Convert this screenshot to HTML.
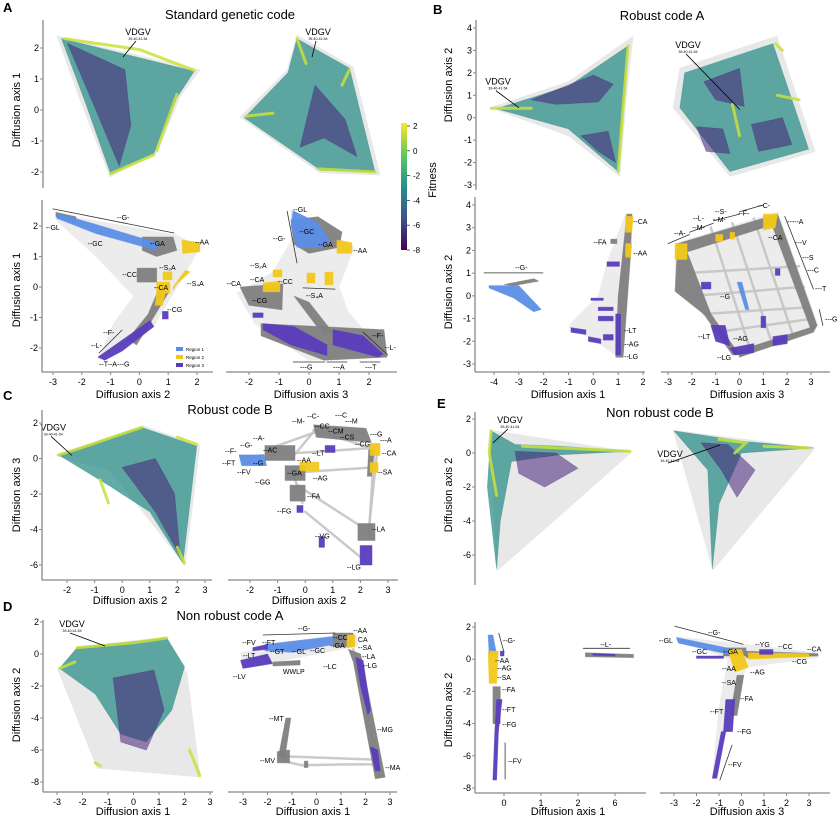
<!DOCTYPE html>
<html><head><meta charset="utf-8">
<style>
html,body{margin:0;padding:0;background:#fff;}
svg{display:block;font-family:"Liberation Sans","DejaVu Sans",sans-serif;}
</style></head>
<body>
<svg id="fig" width="840" height="818" viewBox="0 0 840 818" xmlns="http://www.w3.org/2000/svg">
<defs>
<linearGradient id="viridis" x1="0" y1="0" x2="0" y2="1">
<stop offset="0" stop-color="#fde725"/><stop offset="0.25" stop-color="#5ec962"/><stop offset="0.5" stop-color="#21918c"/><stop offset="0.75" stop-color="#3b528b"/><stop offset="1" stop-color="#440154"/>
</linearGradient>
</defs>
<g id="static">
<text x="3" y="12" font-size="13" font-weight="bold">A</text>
<text x="433" y="14" font-size="13" font-weight="bold">B</text>
<text x="3" y="400" font-size="13" font-weight="bold">C</text>
<text x="3" y="611" font-size="13" font-weight="bold">D</text>
<text x="437" y="408" font-size="13" font-weight="bold">E</text>
<text x="230" y="19" font-size="13" text-anchor="middle">Standard genetic code</text>
<text x="662" y="20" font-size="13" text-anchor="middle">Robust code A</text>
<text x="230" y="414" font-size="13" text-anchor="middle">Robust code B</text>
<text x="230" y="620" font-size="13" text-anchor="middle">Non robust code A</text>
<text x="660" y="417" font-size="13" text-anchor="middle">Non robust code B</text>
<rect x="401" y="123" width="6" height="127" fill="url(#viridis)"/>
<text x="436" y="180" font-size="11" text-anchor="middle" transform="rotate(-90 436 180)">Fitness</text>
</g>
</svg>
<script>
// ---------- colorbar ticks ----------
const cbTicks = [2, 0, -2, -4, -6, -8];
// ---------- tick arrays ----------
const A_x2Ticks = [-3,-2,-1,0,1,2];
const A_x3Ticks = [-2,-1,0,1,2];
const A_yTicks = [2,1,0,-1,-2];
const B_x1Ticks = [-4,-3,-2,-1,0,1,2];
const B_x3Ticks = [-3,-2,-1,0,1,2,3];
const B_yTopTicks = [4,3,2,1,0,-1,-2,-3];
const B_yBotTicks = [4,3,2,1,0,-1,-2,-3];
const C_xTicks = [-2,-1,0,1,2,3];
const C_yTicks = [2,0,-2,-4,-6];
const D_xTicks = [-3,-2,-1,0,1,2,3];
const D_yTicks = [2,0,-2,-4,-6,-8];
const E_x1Ticks = [0,1,2,3];
const E_x1TickLabels = ["0","1","2","6"];
const E_x3Ticks = [-3,-2,-1,0,1,2,3];
const E_yTopTicks = [2,0,-2,-4,-6];
const E_yBotTicks = [2,0,-2,-4,-6,-8];

// ---------- A top (fitness) ----------
const A1_hull = [[-2.86,2.39],[2.1,1.29],[1.41,0.42],[0.61,-1.39],[-1.02,-2.16],[-2.06,0.32]];
const A1_body = [[-2.7,2.3],[1.9,1.25],[1.3,0.4],[0.5,-1.4],[-1.0,-2.05],[-1.9,0.3]];
const A1_purple = [[[-2.5,2.15],[-0.5,1.3],[-0.3,-0.5],[-0.7,-1.8],[-1.6,0.2]]];
const A1_yellow = [[[-2.6,2.3],[0,1.95],[1.9,1.28]],[[-1.0,-2.05],[0.5,-1.45]],[[1.3,0.5],[0.6,-1.3]]];
const A2_hull = [[-0.4,2.42],[1.47,1.39],[2.37,-2.1],[0.37,-2.03],[-2.3,-0.23],[-0.73,1.29]];
const A2_body = [[-0.4,2.3],[1.35,1.35],[2.2,-2.0],[0.4,-1.95],[-2.15,-0.25],[-0.7,1.2]];
const A2_purple = [[[0.2,0.8],[1.2,-0.3],[1.6,-1.5],[0.5,-0.9],[-0.3,-1.2],[0.0,0.0]]];
const A2_yellow = [[[-0.4,2.3],[-0.1,1.5]],[[0.3,-1.9],[2.2,-2.0]],[[-2.1,-0.2],[-1.2,-0.1]],[[1.35,1.3],[1.1,0.8]]];

// ---------- A bottom (regions) ----------
const A3_net = [[-2.9,2.4],[1.3,1.7],[2.1,1.3],[1.5,0.3],[0.8,-0.8],[0.5,-1.3],[-1.4,-2.35],[-0.9,-1.2],[-0.2,-0.3],[-1.5,1.0],[-2.9,2.2]];
const A3_gray = [[[0.1,1.64],[1.17,1.64],[1.3,1.2],[0.6,1.0],[0.1,1.2]],[[-0.08,0.62],[0.6,0.62],[0.6,0.16],[-0.08,0.16]],[[0.7,0.0],[1.0,-0.2],[0.3,-1.3],[-0.1,-1.9],[-0.4,-1.7],[0.3,-0.9]],[[-2.9,2.45],[-2.2,2.3],[-2.2,2.1],[-2.9,2.3]]];
const A3_blue = [[[-2.86,2.42],[-1.5,2.05],[0.6,1.45],[0.6,1.2],[-1.5,1.75],[-2.86,2.25]]];
const A3_yellow = [[[1.48,1.54],[2.1,1.45],[2.1,1.15],[1.5,1.1]],[[0.6,0.16],[1.06,0.16],[1.06,-0.2],[0.6,-0.2]],[[0.82,0.5],[1.13,0.5],[1.13,0.23],[0.82,0.23]],[[1.17,-0.1],[1.3,0.1],[1.76,0.5],[1.6,0.55],[1.17,0.0]],[[0.6,-0.2],[0.9,-0.2],[0.8,-0.6],[0.55,-0.6]]];
const A3_purple = [[[-1.44,-2.3],[0.37,-1.1],[0.5,-1.3],[-0.6,-2.1],[-1.2,-2.4]],[[0.8,-0.8],[1.0,-0.8],[1.0,-1.05],[0.8,-1.05]]];
const A3_brackets = [[[-3.0,2.56],[1.2,1.77]],[[-1.4,-2.16],[-0.6,-1.41]]];
const A3_labels = [["--GL",-3.25,1.97],["--G-",-0.78,2.3],["--GC",-1.8,1.44],["--GA",0.37,1.44],["--AA",1.93,1.5],["--S₂A",0.68,0.66],["--CC",-0.6,0.43],["--S₄A",1.65,0.13],["--CA",0.5,0.0],["--CG",0.96,-0.72],["--F-",-1.26,-1.48],["--L-",-1.68,-1.9],["--T--A---G",-1.4,-2.5]];
const A4_net = [[-0.6,2.55],[1.5,1.3],[1.0,0.0],[1.3,-0.8],[2.6,-2.3],[0.0,-2.4],[-1.8,-1.2],[-2.4,-0.2],[-1.2,0.5],[-0.6,1.5]];
const A4_gray = [[[-0.6,2.2],[0.3,2.3],[1.1,1.8],[1.0,1.3],[0.0,1.1],[-0.5,1.4]],[[-2.3,0.0],[-0.87,0.1],[-0.9,-0.75],[-2.0,-0.6]],[[-1.6,-1.2],[2.5,-1.4],[2.6,-2.3],[0.5,-2.4],[-1.6,-1.6]],[[-0.5,-0.3],[0.0,-0.5],[0.8,-1.5],[0.5,-1.6]]];
const A4_blue = [[[-0.53,2.5],[0.3,2.1],[0.7,1.5],[0.4,1.3],[-0.4,1.3],[-0.6,2.0]]];
const A4_yellow = [[[0.93,1.54],[1.43,1.45],[1.43,1.1],[0.93,1.1]],[[-0.07,0.46],[0.2,0.46],[0.2,0.13],[-0.07,0.13]],[[0.53,0.49],[0.8,0.49],[0.8,0.07],[0.53,0.07]],[[-1.53,0.13],[-0.97,0.2],[-0.97,-0.16],[-1.53,-0.16]],[[-1.2,0.56],[-0.9,0.56],[-0.9,0.33],[-1.2,0.33]]];
const A4_purple = [[[-1.53,-1.2],[-0.5,-1.3],[0.6,-1.9],[0.6,-2.25],[-0.6,-1.9],[-1.53,-1.4]],[[0.8,-1.4],[1.8,-1.6],[2.47,-2.2],[2.3,-2.3],[0.8,-1.9]],[[-1.87,-0.85],[-1.53,-0.85],[-1.53,-1.0],[-1.87,-1.0]]];
const A4_brackets = [[[-0.73,2.49],[-0.4,0.79]],[[-0.2,-0.03],[0.87,-0.07]],[[1.8,-1.48],[2.63,-2.23]],[[-0.53,-2.46],[0.53,-2.46]],[[0.6,-2.46],[1.27,-2.46]],[[1.7,-2.46],[2.37,-2.46]]];
const A4_labels = [["--GL",-0.53,2.56],["--G-",-1.2,1.6],["--GC",-0.33,1.84],["--GA",0.3,1.41],["--AA",1.47,1.21],["--S₂A",-1.97,0.72],["--CA",-2.75,0.13],["--CA",-1.97,0.26],["--CC",-1.03,0.2],["--S₄A",-0.1,-0.26],["--CG",-1.9,-0.43],["--F-",2.1,-1.57],["--L-",2.53,-1.97],["---G",-0.3,-2.6],["---A",0.8,-2.6],["---T",1.87,-2.6]];

// ---------- B ----------
const B1_hull = [[-4.16,0.44],[-1,1.6],[1.6,3.64],[1.3,0.5],[1.07,-2.62],[-1,-0.8]];
const B1_body = [[-3.9,0.4],[-1,1.4],[1.4,3.2],[1.2,0.5],[1.0,-2.4],[-1,-0.5]];
const B1_purple = [[[-2.5,0.8],[0,1.9],[0.8,1.5],[0.2,0.7],[-1.5,0.6]],[[-0.5,-0.8],[0.6,-0.6],[0.9,-2.0],[0.2,-1.5]]];
const B1_yellow = [[[1.4,3.2],[1.2,0.5],[1.0,-2.4]],[[-4.1,0.42],[-2.5,0.42]]];
const B2_hull = [[-2.79,0.44],[-2.5,2.22],[1.57,3.64],[3.17,-1.51],[-0.4,-2.62]];
const B2_body = [[-2.5,0.44],[-2.3,2.0],[1.4,3.3],[2.9,-1.4],[-0.4,-2.4]];
const B2_purple = [[[-1.5,1.6],[0,2.2],[0.2,0.5],[-1,0.8]],[[0.5,-0.3],[1.8,0],[2.2,-1.2],[0.8,-1.5]],[[-1.8,-0.4],[-0.7,-0.5],[-0.4,-1.6],[-1.4,-1.5]]];
const B2_yellow = [[[-0.3,0.6],[0.0,-0.8]],[[1.5,3.3],[1.8,3.0]],[[1.6,1.0],[2.5,0.8]]];
const B3_net = [[-1,-1.4],[0,-1.9],[1.0,-2.7],[1.2,-2.7],[1.6,3.6],[1.3,3.6],[0.6,1.6],[0.2,0],[-0.9,-1.2]];
const B3_gray = [[[1.35,3.6],[1.55,3.6],[1.5,1.8],[1.2,-2.7],[0.9,-2.7],[1.0,0]],[[-3.6,0.5],[-2.4,0.75],[-2.2,0.65],[-3.2,0.45]],[[0.7,2.5],[0.95,2.5],[0.95,2.3],[0.7,2.3]]];
const B3_blue = [[[-4.2,0.45],[-3,0.45],[-2.1,-0.6],[-2.4,-0.7],[-3.2,-0.1],[-4.2,0.35]]];
const B3_yellow = [[[1.3,3.5],[1.6,3.5],[1.55,2.8],[1.3,2.8]],[[1.3,2.3],[1.55,2.3],[1.5,1.7],[1.3,1.7]]];
const B3_purple = [[[0.55,1.5],[1.05,1.5],[1.05,1.3],[0.55,1.3]],[[-0.1,-0.1],[0.4,-0.1],[0.4,-0.2],[-0.1,-0.2]],[[0.2,-0.5],[0.8,-0.5],[0.8,-0.65],[0.2,-0.65]],[[0.2,-0.9],[0.8,-0.9],[0.8,-1.1],[0.2,-1.1]],[[-0.9,-1.4],[-0.3,-1.5],[-0.3,-1.7],[-0.9,-1.6]],[[-0.2,-1.8],[0.3,-1.9],[0.3,-2.1],[-0.2,-2.0]],[[0.4,-1.7],[0.8,-1.7],[0.8,-1.95],[0.4,-1.95]],[[0.9,-0.8],[1.1,-0.8],[1.1,-2.6],[0.9,-2.6]]];
const B3_brackets = [[[-4.4,1.01],[-2.03,1.01]]];
const B3_labels = [["--G-",-3.15,1.28],["--CA",1.6,3.3],["--FA",0.0,2.4],["--AA",1.6,1.9],["--LT",1.24,-1.5],["--AG",1.24,-2.1],["--LG",1.24,-2.64]];
const B4_net = [[-2.7,2.3],[1.6,3.7],[3.3,-1.3],[0.0,-2.7],[-1.5,-0.8],[-2.7,0.2]];
const B4_gray = [[[-2.6,2.3],[1.6,3.6],[1.6,3.2],[-2.6,1.8]],[[1.6,3.6],[3.25,-1.3],[3.0,-1.5],[1.3,3.3]],[[0.0,-2.4],[3.25,-1.3],[3.1,-1.6],[0.0,-2.7]],[[-2.6,2.2],[-2.3,2.2],[-1.2,-0.8],[0.0,-2.6],[-0.3,-2.6],[-1.5,-0.8],[-2.7,0.2]]];
const B4_grid = [[[-2.3,1.0],[2.5,1.3]],[[-1.9,0.0],[2.7,0.4]],[[-1.5,-0.8],[2.9,-0.5]],[[-1.0,-1.6],[3.1,-1.0]],[[-1.2,3.0],[0.4,-2.2]],[[-0.3,3.2],[1.3,-1.9]],[[0.6,3.4],[2.2,-1.6]]];
const B4_blue = [[[-0.1,0.6],[0.1,0.6],[0.4,-0.6],[0.25,-0.6]]];
const B4_yellow = [[[1.0,3.6],[1.6,3.6],[1.5,3.0],[1.0,2.9]],[[-2.7,2.3],[-2.2,2.3],[-2.2,1.6],[-2.7,1.6]],[[-1.0,2.7],[-0.7,2.7],[-0.7,2.4],[-1.0,2.4]],[[-0.4,2.8],[-0.2,2.8],[-0.2,2.5],[-0.4,2.5]]];
const B4_purple = [[[-1.2,-1.3],[-0.6,-1.3],[-0.4,-2.2],[-1.0,-2.0]],[[-0.4,-2.3],[0.6,-2.1],[0.6,-2.5],[-0.2,-2.6]],[[1.4,-1.8],[2.0,-1.7],[2.0,-2.1],[1.4,-2.2]],[[-1.6,0.6],[-1.2,0.6],[-1.2,0.3],[-1.6,0.3]],[[0.9,-0.9],[1.1,-0.9],[1.1,-1.4],[0.9,-1.4]],[[1.5,1.2],[1.7,1.2],[1.7,0.9],[1.5,0.9]]];
const B4_brackets = [[[-3.0,2.3],[-2.1,2.7]],[[-2.1,2.8],[-1.1,3.2]],[[-1.1,3.3],[0.0,3.6]],[[0.0,3.7],[1.0,4.0]],[[1.9,3.5],[3.1,0.3]],[[3.35,-0.6],[3.5,-1.3]]];
const B4_labels = [["--A-",-2.75,2.78],["--L-",-1.95,3.44],["--M-",-1.99,3.04],["--S-",-1.03,3.74],["--M-",-1.11,3.39],["--F-",-0.06,3.66],["--C-",0.78,4.0],["--CA",1.2,2.6],["-----A",2.0,3.3],["---V",2.33,2.38],["---S",2.62,1.72],["---C",2.83,1.15],["---T",3.17,0.35],["---G",3.59,-1.0],["--G",-0.82,0.0],["--LT",-1.74,-1.76],["--AG",-0.27,-1.85],["--LG",-0.94,-2.69]];

// ---------- C ----------
const C1_hull = [[-2.43,0.17],[0.75,1.86],[2.82,0.73],[2.28,-6.03],[-0.44,-0.68]];
const C1_body = [[-2.3,0.2],[0.7,1.75],[2.7,0.7],[2.2,-5.9],[1.0,-3],[-0.5,-1.5]];
const C1_purple = [[[0,-0.5],[1.2,0],[1.9,-2],[2.1,-5.5],[1.2,-3]]];
const C1_yellow = [[[-2.3,0.2],[-1.5,0.6],[0.7,1.75]],[[2.0,1.2],[2.7,0.8]],[[2.0,-5.0],[2.25,-5.9]],[[-0.8,-1.2],[-0.5,-2.5]]];
const C2_net = [[[-2.3,0.1],[2.5,0.6]],[[-0.5,0.0],[0.3,1.5]],[[2.5,0.5],[2.3,-4.5]],[[-0.3,-1.5],[2.2,-4.0]],[[0.0,-3.0],[2.2,-5.8]],[[2.6,0.3],[2.3,-4.0]],[[0.3,1.6],[2.4,0.6]],[[-1.4,0.5],[0.4,1.5]],[[-0.5,-0.8],[2.5,-0.5]],[[-0.4,-1.0],[-0.1,-2.5]]];
const C2_gray = [[[-1.46,0.73],[-0.37,0.73],[-0.37,-0.11],[-1.46,-0.11]],[[0.3,1.9],[2.2,1.7],[2.4,0.9],[0.4,1.2]],[[-0.73,-0.4],[0.0,-0.4],[0.0,-1.24],[-0.73,-1.24]],[[-0.55,-1.5],[0.0,-1.5],[0.0,-2.4],[-0.55,-2.4]],[[1.91,-3.66],[2.53,-3.66],[2.53,-4.62],[1.91,-4.62]],[[2.3,0.5],[2.5,0.5],[2.4,-1.0],[2.25,-1.0]]];
const C2_blue = [[[-2.4,0.2],[-1.5,0.2],[-1.4,-0.4],[-2.3,-0.4]]];
const C2_yellow = [[[-0.2,-0.2],[0.5,-0.2],[0.5,-0.7],[-0.2,-0.7]],[[2.35,0.85],[2.71,0.85],[2.71,0.17],[2.35,0.17]],[[2.35,-0.23],[2.64,-0.23],[2.64,-0.79],[2.35,-0.79]]];
const C2_purple = [[[0.72,0.73],[1.08,0.73],[1.08,0.34],[0.72,0.34]],[[-0.3,-2.65],[-0.08,-2.65],[-0.08,-3.04],[-0.3,-3.04]],[[0.5,-4.4],[0.7,-4.4],[0.7,-5.0],[0.5,-5.0]],[[1.99,-4.9],[2.42,-4.9],[2.42,-6.0],[1.99,-6.0]]];
const C2_labels = [["--M-",-0.48,2.14],["--C-",0.07,2.42],["---C",1.08,2.48],["---M",1.44,2.14],["--CC",0.35,1.86],["--CM",0.83,1.58],["--CS",1.26,1.24],["--CG",1.8,0.85],["---G",2.35,1.41],["---A",2.71,1.07],["--CA",2.78,0.34],["--SA",2.64,-0.73],["--A-",-1.89,1.18],["--G-",-2.36,0.79],["--F-",-2.9,0.45],["--FT",-3.01,-0.23],["--FV",-2.47,-0.73],["--GG",-1.82,-1.3],["--G",-1.89,-0.23],["--AC",-1.53,0.51],["--LT",0.25,0.34],["--AA",-0.3,-0.06],["--GA",-0.66,-0.79],["--AG",0.28,-1.07],["--FA",0.07,-2.08],["--FG",-1.02,-2.93],["--VG",0.35,-4.34],["--LA",2.42,-3.94],["--LG",1.51,-6.08]];

// ---------- D ----------
const D1_hull = [[-2.96,-1.0],[-2.22,0.44],[1.31,1.06],[2.1,-1.2],[2.61,-7.69],[-1.43,-7.13]];
const D1_body = [[-2.9,-0.9],[-2.2,0.4],[1.3,1.0],[2.0,-0.8],[1.5,-3.5],[0.5,-5.5],[-0.5,-5],[-1.5,-2.5]];
const D1_purple = [[[-0.8,-1.5],[0.8,-1.0],[1.2,-3.5],[0.5,-6.0],[-0.5,-5.5]]];
const D1_yellow = [[[-2.2,0.4],[0,0.7],[1.3,1.0]],[[-2.9,-0.9],[-2.3,-0.5]],[[2.2,-6],[2.6,-7.6]],[[-1.5,-6.8],[-1.3,-7.0]]];
const D2_net = [[-3.1,0.1],[1.6,1.3],[1.7,0.5],[-3.0,-0.9]];
const D2_lines = [[[-1.35,-6.7],[-0.6,-6.95],[1.2,-6.9],[2.4,-6.9]],[[-1.3,-6.4],[2.4,-6.6]],[[1.5,0.3],[2.6,-7.6]]];
const D2_gray = [[[-1.78,-0.5],[-0.67,-0.4],[-0.67,-0.69],[-1.78,-0.75]],[[0.67,1.31],[1.49,1.31],[1.49,0.44],[0.67,0.44]],[[1.3,0.3],[1.8,0.0],[2.8,-7.7],[2.4,-7.8],[1.5,-0.5]],[[-1.25,-4.0],[-1.05,-4.0],[-1.3,-6.6],[-1.55,-6.4]],[[-1.6,-6.1],[-1.1,-6.0],[-1.1,-6.8],[-1.6,-6.8]],[[-0.5,-6.7],[-0.35,-6.7],[-0.35,-7.1],[-0.5,-7.1]]];
const D2_blue = [[[-2.1,0.6],[0.7,1.1],[0.7,0.6],[-1.0,0.1],[-2.1,0.2]]];
const D2_yellow = [[[1.24,1.19],[1.57,1.19],[1.57,0.44],[1.24,0.44]]];
const D2_purple = [[[-3.1,-0.4],[-2.0,0.0],[-1.8,-0.6],[-3.0,-0.9]],[[-2.6,0.4],[-2.0,0.6],[-2.0,0.3],[-2.6,0.2]],[[1.6,-0.2],[1.9,-0.4],[2.2,-3.5],[2.1,-3.8],[1.8,-2]],[[2.2,-5.8],[2.5,-6],[2.6,-7.3],[2.4,-7.3]]];
const D2_brackets = [[[-2.18,1.19],[0.76,1.31]]];
const D2_labels = [["--G-",-0.76,1.63],["--AA",1.49,1.5],["--CC",0.67,1.06],["CA",1.69,0.94],["--GA",0.55,0.56],["--SA",1.69,0.44],["--FV",-3.04,0.75],["--FT",-2.22,0.75],["--GT",-1.9,0.19],["--GL",-1.0,0.19],["--GC",-0.27,0.25],["--LA",1.86,-0.13],["--LT",-3.0,-0.06],["--LG",1.9,-0.69],["WWLP",-1.37,-1.06],["--LC",0.27,-0.75],["--LV",-3.41,-1.38],["--MT",-1.94,-4.0],["--MG",2.47,-4.69],["--MV",-2.31,-6.63],["--MA",2.8,-7.06]];

// ---------- E ----------
const E1_hull = [[-0.38,1.35],[3.46,0.06],[-0.19,-6.94]];
const E1_body = [[-0.35,1.3],[0.3,0.5],[1.5,0.4],[3.4,0.1],[1.5,-0.1],[0.2,-0.5],[-0.1,-4],[-0.2,-6.8],[-0.45,-2]];
const E1_purple = [[[0.3,0.1],[1.4,0.0],[2.0,-0.9],[1.1,-2],[0.4,-1.2]]];
const E1_yellow = [[[-0.35,1.3],[-0.4,0],[-0.2,-2.5]],[[0.5,0.4],[3.4,0.1]]];
const E2_hull = [[-3.04,1.35],[3.27,0.29],[-1.27,-6.88]];
const E2_body = [[-3.0,1.3],[0,0.7],[3.2,0.3],[0,0],[-1.0,-3],[-1.3,-6.8],[-1.5,-1]];
const E2_purple = [[[-1.8,0.6],[-0.6,0.5],[0.6,-1],[-0.2,-2.6],[-0.9,-1]]];
const E2_yellow = [[[-1.0,0.8],[0.2,0.6],[-0.3,0.0]],[[1.0,0.4],[3.0,0.3]]];
const E3_gray = [[[-0.3,-1.7],[-0.1,-1.7],[-0.1,-4],[-0.3,-4]],[[2.2,0.4],[3.5,0.3],[3.5,0.1],[2.2,0.15]]];
const E3_blue = [[[-0.43,1.5],[-0.3,1.5],[-0.2,0.3],[-0.4,0.3]]];
const E3_yellow = [[[-0.43,0.5],[-0.15,0.5],[-0.2,-1.5],[-0.4,-1.5]]];
const E3_purple = [[[-0.2,-2.5],[-0.05,-2.5],[-0.15,-4.5],[-0.25,-4.5]],[[-0.25,-4.5],[-0.15,-4.5],[-0.2,-7.5],[-0.3,-7.5]],[[-0.1,0.5],[0,0.5],[0,0.2],[-0.1,0.2]],[[2.4,0.35],[3.0,0.3],[3.0,0.2],[2.4,0.25]]];
const E3_brackets = [[[-0.14,1.6],[0.0,0.43]],[[2.14,0.68],[3.4,0.68]],[[0.03,-5.2],[0.03,-7.45]]];
const E3_labels = [["--G-",-0.03,1.18],["--L-",2.6,0.93],["--AA",-0.24,-0.06],["--AG",-0.19,-0.5],["--SA",-0.19,-1.12],["--FA",-0.05,-1.86],["--FT",-0.05,-3.1],["--FG",-0.05,-4.04],["--FV",0.11,-6.3]];
const E4_net = [[-2.9,1.4],[3.4,0.4],[3.4,0.1],[0.2,-0.5],[-0.6,-4],[-1.3,-7.4],[-1.0,-3],[-0.6,0]];
const E4_gray = [[[-0.8,0.7],[0.2,0.7],[0.2,0.2],[-0.8,0.2]],[[0.2,0.5],[3.4,0.35],[3.4,0.2],[0.2,0.1]],[[-0.2,-1.0],[0.1,-1.0],[-0.2,-3.5],[-0.5,-3.5]]];
const E4_blue = [[[-2.9,1.35],[-0.3,0.6],[-0.4,0.25],[-2.8,1.0]]];
const E4_yellow = [[[-0.6,0.6],[0.0,0.6],[0.3,-0.5],[-0.3,-0.8]],[[0.3,0.4],[3.0,0.35],[3.0,0.15],[0.3,0.0]]];
const E4_purple = [[[-2.0,0.2],[-0.8,0.2],[-0.8,0.05],[-2.0,0.05]],[[0.8,0.6],[1.4,0.6],[1.4,0.3],[0.8,0.3]],[[-0.7,-2.5],[-0.3,-2.5],[-0.4,-4.5],[-0.8,-4.5]],[[-0.9,-4.5],[-0.7,-4.5],[-1.1,-7.4],[-1.3,-7.4]]];
const E4_brackets = [[[-2.96,2.05],[0.07,0.93]],[[-0.42,-5.34],[-0.96,-7.5]]];
const E4_labels = [["--G-",-1.49,1.68],["--GL",-3.67,1.18],["--GC",-2.2,0.5],["--GA",-0.82,0.5],["--YG",0.6,0.93],["--CC",1.62,0.81],["--CA",2.91,0.68],["--CG",2.24,-0.12],["--AA",-0.87,-0.56],["--AG",0.38,-0.75],["--SA",-0.87,-1.43],["--FA",-0.07,-2.42],["--FT",-1.4,-3.23],["--FG",-0.2,-4.47],["--FV",-0.6,-6.52]];

// VDGV annotations [textX, textY, arrowX, arrowY]
const A1_vdgv = [-0.05,2.42,-0.57,1.71];
const A2_vdgv = [0.3,2.42,0.1,1.71];
const B1_vdgv = [-3.84,1.47,-2.99,0.44];
const B2_vdgv = [-2.16,3.11,0.02,0.36];
const C1_vdgv = [-2.5,1.58,-1.82,0.17];
const D1_vdgv = [-2.41,1.69,-1.12,0.5];
const E1_vdgv = [0.16,1.76,-0.3,0.59];
const E2_vdgv = [-3.18,-0.24,-0.96,0.47];

// ---------- rendering ----------
const NS = "http://www.w3.org/2000/svg";
const svg = document.getElementById("fig");
const COL = {blue:"#5b8ee6", yellow:"#f2c81a", purple:"#5a3cbc", gray:"#7f7f7f", body:"#2f8f8a"};

function lin(v0,p0,v1,p1){ const k=(p1-p0)/(v1-v0); return v=>p0+(v-v0)*k; }
function group(name){
  const g=document.createElementNS(NS,"g");
  
  
  svg.appendChild(g); return g;
}
function poly(g,sp,pts,fill,op,name){
  const e=document.createElementNS(NS,"polygon");
  e.setAttribute("points",pts.map(p=>sp.X(p[0]).toFixed(1)+","+sp.Y(p[1]).toFixed(1)).join(" "));
  e.setAttribute("fill",fill); e.setAttribute("fill-opacity",op);
  e.setAttribute("stroke",fill); e.setAttribute("stroke-opacity",op*0.6); e.setAttribute("stroke-width","0.8");
  e.setAttribute("stroke-linejoin","round");
  
  
  g.appendChild(e);
}
function pline(g,sp,pts,stroke,w,op,name){
  const e=document.createElementNS(NS,"polyline");
  e.setAttribute("points",pts.map(p=>sp.X(p[0]).toFixed(1)+","+sp.Y(p[1]).toFixed(1)).join(" "));
  e.setAttribute("fill","none"); e.setAttribute("stroke",stroke); e.setAttribute("stroke-width",w);
  e.setAttribute("stroke-opacity",op); e.setAttribute("stroke-linecap","round");
  
  
  g.appendChild(e);
}
function txt(g,x,y,s,size,anchor,name,rot){
  const e=document.createElementNS(NS,"text");
  e.setAttribute("x",x); e.setAttribute("y",y); e.setAttribute("font-size",size);
  if(anchor) e.setAttribute("text-anchor",anchor);
  if(rot) e.setAttribute("transform","rotate(-90 "+x+" "+y+")");
  e.textContent=s;
  
  
  g.appendChild(e); return e;
}
function line(g,x1,y1,x2,y2,stroke,w,name){
  const e=document.createElementNS(NS,"line");
  e.setAttribute("x1",x1);e.setAttribute("y1",y1);e.setAttribute("x2",x2);e.setAttribute("y2",y2);
  e.setAttribute("stroke",stroke);e.setAttribute("stroke-width",w);
  
  
  g.appendChild(e);
}
function yAxis(g,sp,x,yTop,yBot,ticks){
  line(g,x,yTop,x,yBot,"#888",1.3,"y-axis-spine");
  ticks.forEach(t=>{ const y=sp.Y(t); line(g,x-3,y,x,y,"#888",1,"y-tick"); txt(g,x-4,y+3,String(t),9,"end","y-tick-label"); });
}
function xAxis(g,sp,y,xL,xR,ticks,labels){
  line(g,xL,y,xR,y,"#888",1.3,"x-axis-spine");
  ticks.forEach((t,i)=>{ const x=sp.X(t); line(g,x,y,x,y+3,"#888",1,"x-tick"); txt(g,x,y+13,labels?labels[i]:String(t),9,"middle","x-tick-label"); });
}
function fitness(g,sp,hull,body,purple,yellow,v){
  poly(g,sp,hull,"#e2e2e2",0.8,"network-hull");
  poly(g,sp,body,COL.body,0.75,"fitness-cloud");
  purple.forEach(p=>poly(g,sp,p,"#46237a",0.55,"low-fitness-patch"));
  yellow.forEach(p=>pline(g,sp,p,"#c8e03a",3,0.85,"high-fitness-edge"));
  if(v){
    txt(g,sp.X(v[0]),sp.Y(v[1]),"VDGV",9,"middle","vdgv-label");
    txt(g,sp.X(v[0]),sp.Y(v[1])+5,"39-40-41-54",3.5,"middle","vdgv-sublabel");
    line(g,sp.X(v[0])-2,sp.Y(v[1])+6,sp.X(v[2]),sp.Y(v[3]),"#000",0.8,"vdgv-arrow");
  }
}
function regions(g,sp,o){
  if(o.net) poly(g,sp,o.net,"#e0e0e0",0.6,"network-edges");
  (o.lines||[]).forEach(p=>pline(g,sp,p,"#c4c4c4",2.5,0.9,"network-link"));
  (o.gray||[]).forEach(p=>poly(g,sp,p,COL.gray,0.95,"gray-cluster"));
  (o.blue||[]).forEach(p=>poly(g,sp,p,COL.blue,0.95,"region-1-cluster"));
  (o.yellow||[]).forEach(p=>poly(g,sp,p,COL.yellow,0.95,"region-2-cluster"));
  (o.purple||[]).forEach(p=>poly(g,sp,p,COL.purple,0.95,"region-3-cluster"));
  (o.brackets||[]).forEach(p=>pline(g,sp,p,"#333",0.8,1,"label-bracket"));
  (o.labels||[]).forEach(l=>txt(g,sp.X(l[1]),sp.Y(l[2])+3,l[0],7,"start","cluster-label"));
}

// subplot scales
const sA1={X:lin(-3,53,2,197),Y:lin(2,48,-2,172)};
const sA2={X:lin(-2,249,2,369),Y:lin(2,48,-2,172)};
const sA3={X:lin(-3,53,2,197),Y:lin(2,226,-2,348)};
const sA4={X:lin(-2,249,2,369),Y:lin(2,226,-2,348)};
const sB1={X:lin(-4,494,2,643),Y:lin(4,28,-3,185)};
const sB2={X:lin(-3,668,3,811),Y:lin(4,28,-3,185)};
const sB3={X:lin(-4,494,2,643),Y:lin(4,205,-3,364)};
const sB4={X:lin(-3,668,3,811),Y:lin(4,205,-3,364)};
const sC1={X:lin(-2,67,3,205),Y:lin(2,423,-6,565)};
const sC2={X:lin(-2,250,3,388),Y:lin(2,423,-6,565)};
const sD1={X:lin(-3,57,3,210),Y:lin(2,622,-8,782)};
const sD2={X:lin(-3,243,3,390),Y:lin(2,622,-8,782)};
const sE1={X:lin(0,504,2,578),Y:lin(2,419,-6,555)};
const sE2={X:lin(-3,674,3,809),Y:lin(2,419,-6,555)};
const sE3={X:lin(0,504,2,578),Y:lin(2,627,-8,788)};
const sE4={X:lin(-3,674,3,809),Y:lin(2,627,-8,788)};

// Panel A
let g=group("panel-a-top-left"); fitness(g,sA1,A1_hull,A1_body,A1_purple,A1_yellow,A1_vdgv);
yAxis(g,sA1,43,20,188,A_yTicks);
g=group("panel-a-top-right"); fitness(g,sA2,A2_hull,A2_body,A2_purple,A2_yellow,A2_vdgv);
g=group("panel-a-bottom-left"); regions(g,sA3,{net:A3_net,gray:A3_gray,blue:A3_blue,yellow:A3_yellow,purple:A3_purple,brackets:A3_brackets,labels:A3_labels});
yAxis(g,sA3,42,200,372,A_yTicks); xAxis(g,sA3,372,42,213,A_x2Ticks);
g=group("panel-a-bottom-right"); regions(g,sA4,{net:A4_net,gray:A4_gray,blue:A4_blue,yellow:A4_yellow,purple:A4_purple,brackets:A4_brackets,labels:A4_labels});
xAxis(g,sA4,372,226,397,A_x3Ticks);
g=group("panel-a-labels");
txt(g,20,110,"Diffusion axis 1",11,"middle","y-axis-title-a-top",true);
txt(g,20,290,"Diffusion axis 1",11,"middle","y-axis-title-a-bottom",true);
txt(g,133,398,"Diffusion axis 2",11,"middle","x-axis-title-a-left");
txt(g,311,398,"Diffusion axis 3",11,"middle","x-axis-title-a-right");
// legend
g=group("legend-regions");
[["Region 1",COL.blue],["Region 2",COL.yellow],["Region 3",COL.purple]].forEach((r,i)=>{
  const y=347+i*8;
  const rc=document.createElementNS(NS,"rect");
  rc.setAttribute("x",176);rc.setAttribute("y",y);rc.setAttribute("width",7);rc.setAttribute("height",4);rc.setAttribute("fill",r[1]);
  
  
  g.appendChild(rc);
  txt(g,186,y+4,r[0],4.5,"start","legend-entry");
});
// colorbar ticks
g=group("colorbar-ticks");
const cbY=lin(2,126,-8,250);
cbTicks.forEach(t=>{ line(g,407,cbY(t),410,cbY(t),"#333",0.8,"colorbar-tick"); txt(g,413,cbY(t)+3,String(t),8,"start","colorbar-tick-label"); });

// Panel B
g=group("panel-b-top-left"); fitness(g,sB1,B1_hull,B1_body,B1_purple,B1_yellow,B1_vdgv);
yAxis(g,sB1,476,20,190,B_yTopTicks);
g=group("panel-b-top-right"); fitness(g,sB2,B2_hull,B2_body,B2_purple,B2_yellow,B2_vdgv);
g=group("panel-b-bottom-left"); regions(g,sB3,{net:B3_net,gray:B3_gray,blue:B3_blue,yellow:B3_yellow,purple:B3_purple,brackets:B3_brackets,labels:B3_labels});
yAxis(g,sB3,475,197,372,B_yBotTicks); xAxis(g,sB3,372,475,645,B_x1Ticks);
g=group("panel-b-bottom-right"); regions(g,sB4,{net:B4_net,lines:B4_grid,gray:B4_gray,blue:B4_blue,yellow:B4_yellow,purple:B4_purple,brackets:B4_brackets,labels:B4_labels});
xAxis(g,sB4,372,661,830,B_x3Ticks);
g=group("panel-b-labels");
txt(g,452,85,"Diffusion axis 2",11,"middle","y-axis-title-b-top",true);
txt(g,452,292,"Diffusion axis 2",11,"middle","y-axis-title-b-bottom",true);
txt(g,568,398,"Diffusion axis 1",11,"middle","x-axis-title-b-left");
txt(g,747,398,"Diffusion axis 3",11,"middle","x-axis-title-b-right");

// Panel C
g=group("panel-c-left"); fitness(g,sC1,C1_hull,C1_body,C1_purple,C1_yellow,C1_vdgv);
yAxis(g,sC1,42,410,580,C_yTicks); xAxis(g,sC1,580,42,212,C_xTicks);
g=group("panel-c-right"); regions(g,sC2,{lines:C2_net,gray:C2_gray,blue:C2_blue,yellow:C2_yellow,purple:C2_purple,labels:C2_labels});
xAxis(g,sC2,580,228,398,C_xTicks);
g=group("panel-c-labels");
txt(g,20,495,"Diffusion axis 3",11,"middle","y-axis-title-c",true);
txt(g,130,604,"Diffusion axis 2",11,"middle","x-axis-title-c-left");
txt(g,309,604,"Diffusion axis 2",11,"middle","x-axis-title-c-right");

// Panel D
g=group("panel-d-left"); fitness(g,sD1,D1_hull,D1_body,D1_purple,D1_yellow,D1_vdgv);
yAxis(g,sD1,43,620,792,D_yTicks); xAxis(g,sD1,792,43,213,D_xTicks);
g=group("panel-d-right"); regions(g,sD2,{net:D2_net,lines:D2_lines,gray:D2_gray,blue:D2_blue,yellow:D2_yellow,purple:D2_purple,brackets:D2_brackets,labels:D2_labels});
xAxis(g,sD2,792,228,397,D_xTicks);
g=group("panel-d-labels");
txt(g,20,705,"Diffusion axis 2",11,"middle","y-axis-title-d",true);
txt(g,133,815,"Diffusion axis 1",11,"middle","x-axis-title-d-left");
txt(g,313,815,"Diffusion axis 1",11,"middle","x-axis-title-d-right");

// Panel E
g=group("panel-e-top-left"); fitness(g,sE1,E1_hull,E1_body,E1_purple,E1_yellow,E1_vdgv);
yAxis(g,sE1,475,412,585,E_yTopTicks);
g=group("panel-e-top-right"); fitness(g,sE2,E2_hull,E2_body,E2_purple,E2_yellow,E2_vdgv);
g=group("panel-e-bottom-left"); regions(g,sE3,{gray:E3_gray,blue:E3_blue,yellow:E3_yellow,purple:E3_purple,brackets:E3_brackets,labels:E3_labels});
yAxis(g,sE3,475,622,793,E_yBotTicks); xAxis(g,sE3,793,475,646,E_x1Ticks,E_x1TickLabels);
g=group("panel-e-bottom-right"); regions(g,sE4,{net:E4_net,gray:E4_gray,blue:E4_blue,yellow:E4_yellow,purple:E4_purple,brackets:E4_brackets,labels:E4_labels});
xAxis(g,sE4,793,660,830,E_x3Ticks);
g=group("panel-e-labels");
txt(g,452,495,"Diffusion axis 2",11,"middle","y-axis-title-e-top",true);
txt(g,452,710,"Diffusion axis 2",11,"middle","y-axis-title-e-bottom",true);
txt(g,568,815,"Diffusion axis 1",11,"middle","x-axis-title-e-left");
txt(g,747,815,"Diffusion axis 3",11,"middle","x-axis-title-e-right");
</script>
</body></html>
